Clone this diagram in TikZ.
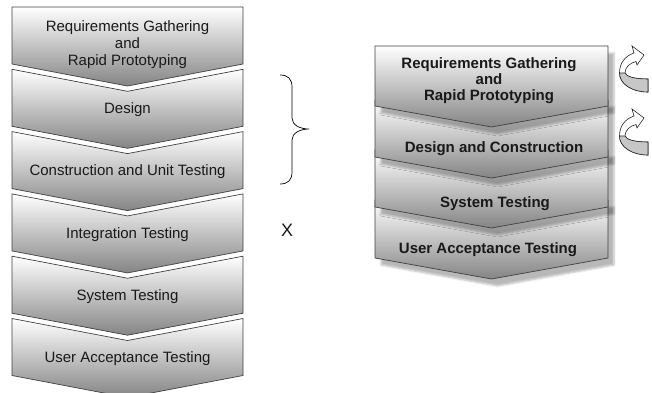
\documentclass[tikz,border=0pt]{standalone}
\usepackage{fontspec}
\setmainfont{Liberation Sans}
\usetikzlibrary{shadows.blur}

% chevron: style, x-left, x-right, top, bottom of sides, point depth, notch depth
\newcommand{\drawchev}[7]{%
  \path[#1] (#2,#4) -- ({(#2+#3)/2},{#4+#7}) -- (#3,#4) -- (#3,#5)
    -- ({(#2+#3)/2},{#5+#6}) -- (#2,#5) -- cycle;}

% curved return arrow next to the right column
\newcommand{\turnarrow}{%
  \path[turn] (648,92) .. controls (632,92) and (619.5,84) .. (619.5,73)
    .. controls (619.5,63) and (625,56) .. (634,53)
    -- (632,46) -- (644,55) -- (637,65) -- (636,61.5)
    .. controls (630,63) and (625,67) .. (625,73)
    .. controls (626,77) and (636,79) .. (648,79) -- cycle;
  \path[turn, fill=black!22] (648,92) .. controls (632,92) and (619.5,84) .. (619.5,73)
    -- (625,73) .. controls (626,77) and (636,79) .. (648,79) -- cycle;}

\tikzset{
  chevleft/.style={draw=black!75, line width=0.7pt, top color=white, bottom color=black!48},
  chevright/.style={chevleft, blur shadow={shadow xshift=6pt, shadow yshift=-7pt,
      shadow blur radius=2pt, shadow opacity=28}},
  lbl/.style={font=\fontsize{15}{17}\selectfont, text=black!90, align=center, inner sep=0pt},
  blbl/.style={lbl, font=\fontsize{15}{16}\selectfont\bfseries},
  turn/.style={draw=black!85, line width=0.6pt, fill=white},
}

\begin{document}
\begin{tikzpicture}[x=1pt, y=-1pt]
\useasboundingbox (0,0) rectangle (652,392);
\clip (0,0) rectangle (652,392);

% ---- left column: full process ----
\drawchev{chevleft}{12}{243}{7}{64}{22}{0}
\drawchev{chevleft}{12}{243}{69.3}{126.3}{22}{22}
\drawchev{chevleft}{12}{243}{131.6}{188.6}{22}{22}
\drawchev{chevleft}{12}{243}{193.9}{250.9}{22}{22}
\drawchev{chevleft}{12}{243}{256.2}{313.2}{22}{22}
\drawchev{chevleft}{12}{243}{318.5}{375.5}{22}{22}

\node[lbl] (l1) at (127.5,44.5) {Requirements Gathering\\and\\Rapid Prototyping};
\node[lbl] (l2) at (127.5,109.5) {Design};
\node[lbl] (l3) at (127.5,172) {Construction and Unit Testing};
\node[lbl] (l4) at (127.5,234.5) {Integration Testing};
\node[lbl] (l5) at (127.5,297) {System Testing};
\node[lbl] (l6) at (127.5,359) {User Acceptance Testing};

% ---- brace and cross ----
\draw[line width=0.7pt] (280,75) .. controls (288,75) and (292,79) .. (292,87)
  -- (292,118) .. controls (292,125) and (300,129) .. (309,129)
  .. controls (300,129) and (292,133) .. (292,140)
  -- (292,172) .. controls (292,180) and (288,184) .. (280,184);
\node[lbl, font=\fontsize{18}{20}\selectfont] (cross) at (287,230) {X};

% ---- right column: condensed process (drawn bottom-up so each overlaps the next) ----
\drawchev{chevright}{375}{608}{200}{258}{21}{0}
\drawchev{chevright}{375}{608}{150}{207}{21}{0}
\drawchev{chevright}{375}{608}{100}{157}{21}{0}
\drawchev{chevright}{375}{608}{46}{106}{21}{0}

\node[blbl] (r1) at (489,81) {Requirements Gathering\\and\\Rapid Prototyping};
\node[blbl] (r2) at (494,149) {Design and Construction};
\node[blbl] (r3) at (495,204) {System Testing};
\node[blbl] (r4) at (488,250) {User Acceptance Testing};

% ---- iteration arrows ----
\turnarrow
\begin{scope}[shift={(0,63)}]
  \turnarrow
\end{scope}
\end{tikzpicture}
\end{document}
